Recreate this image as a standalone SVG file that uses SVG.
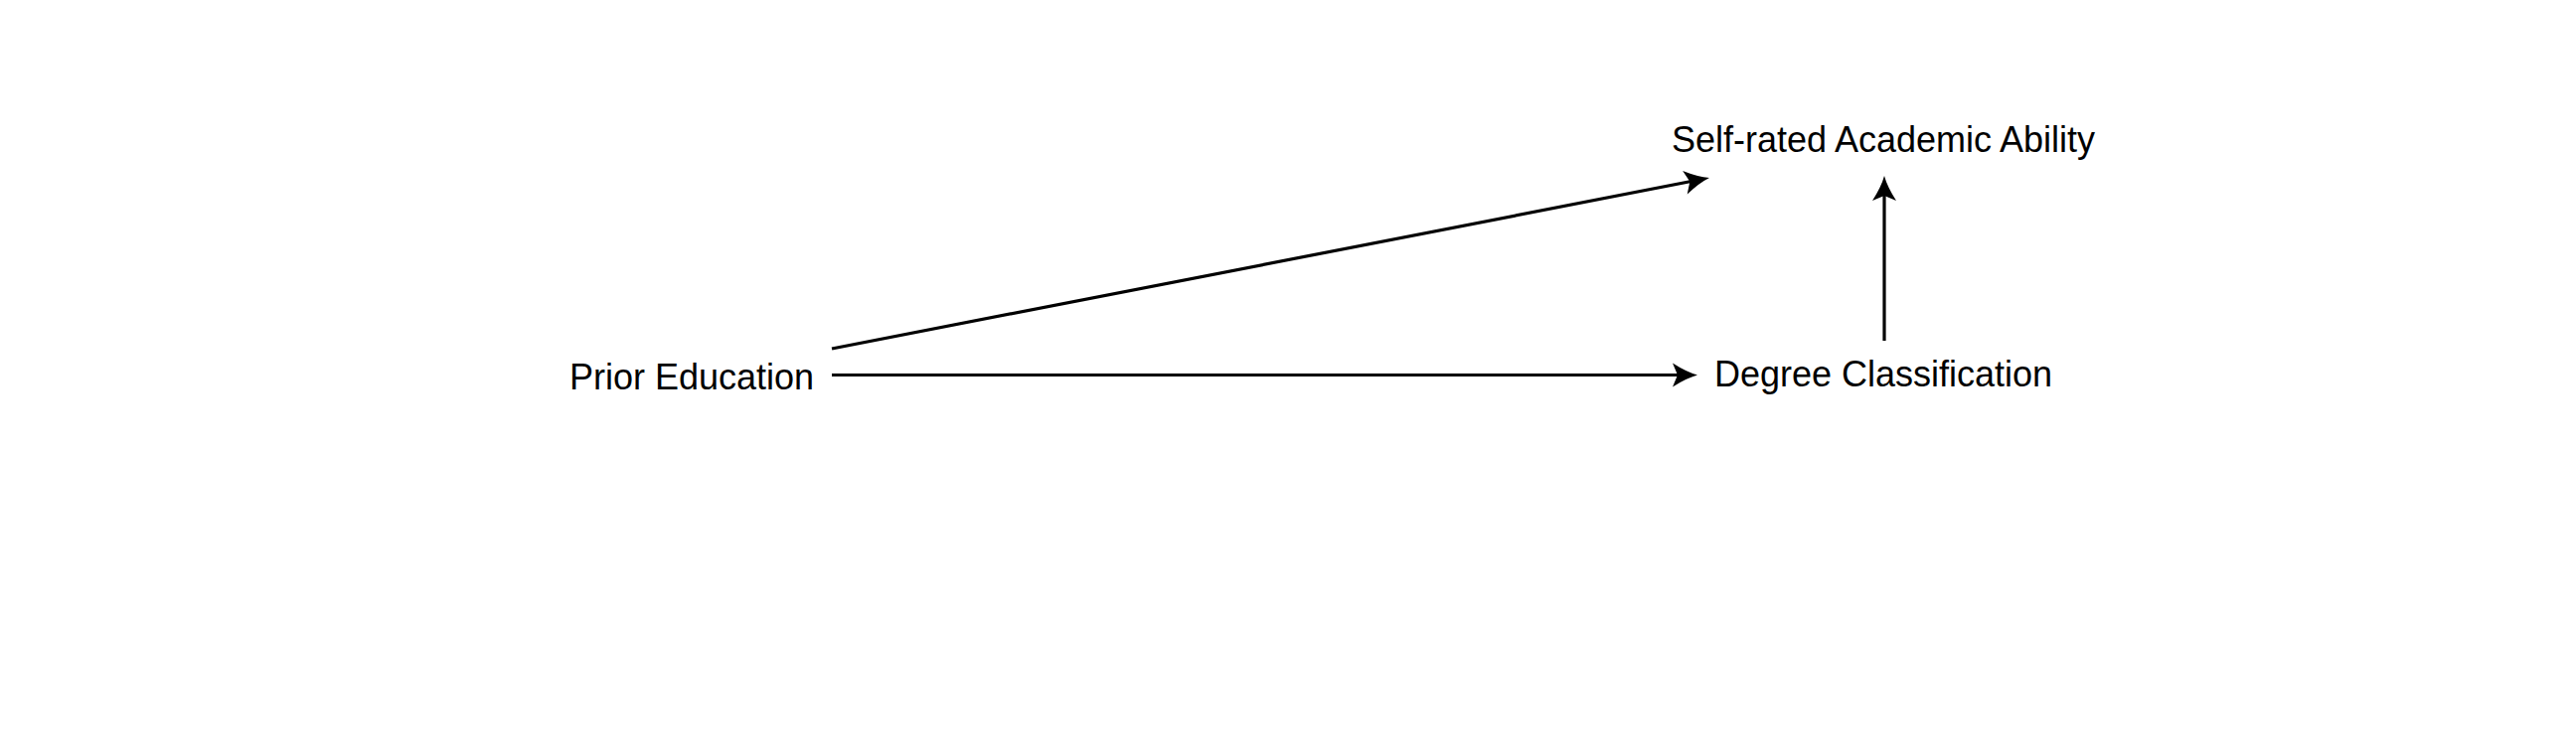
<svg xmlns="http://www.w3.org/2000/svg" width="2592" height="756" viewBox="0 0 2592 756">
<style>
text { font-family: "Liberation Sans", Arial, sans-serif; font-size: 36px; fill: #000; text-anchor: middle; }
.edge { stroke: #000; stroke-width: 3.2; fill: none; marker-end: url(#arr); }
</style>
<defs>
<marker id="arr" markerUnits="userSpaceOnUse" orient="auto" overflow="visible" markerWidth="1" markerHeight="1" refX="0" refY="0">
<path d="M12,0 Q1,3 -13,12 L-8,0 L-13,-12 Q1,-3 12,0 Z" fill="#000"/>
</marker>
</defs>
<rect width="2592" height="756" fill="#fff"/>
<g id="connectors">
<line class="edge" x1="837" y1="351" x2="1708.2" y2="181.3"/>
<line class="edge" x1="837" y1="377.5" x2="1696" y2="377.5"/>
<line class="edge" x1="1896" y1="343" x2="1896" y2="189"/>
</g>
<g id="node-self-rated"><text x="1895" y="153">Self-rated Academic Ability</text></g>
<g id="node-prior"><text x="696" y="392">Prior Education</text></g>
<g id="node-degree"><text x="1895" y="389">Degree Classification</text></g>
</svg>
